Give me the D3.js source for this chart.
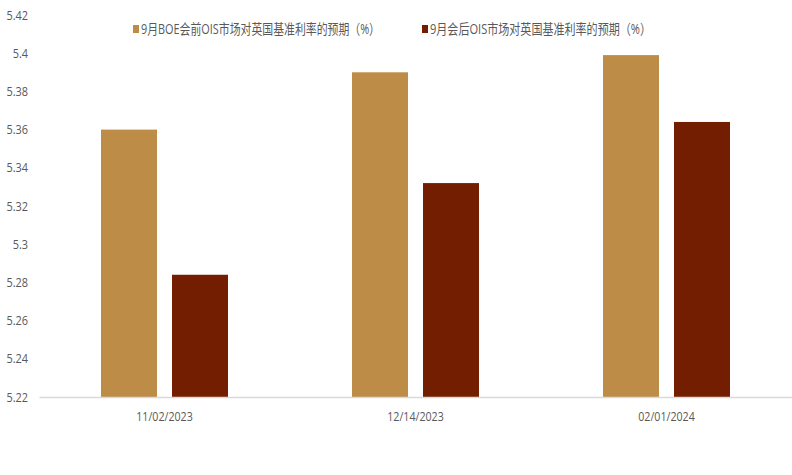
<!DOCTYPE html>
<html>
<head>
<meta charset="utf-8">
<script src="https://cdn.jsdelivr.net/npm/d3@7"></script>
<style>
  body { margin: 0; background: #fff; }
  svg text { font-family: "Open Sans", "Noto Sans CJK SC", sans-serif; fill: #595959; }
</style>
</head>
<body>
<div id="chart"></div>
<script>
// data
var dates = ["11/02/2023", "12/14/2023", "02/01/2024"];
var seriesNames = ["9月BOE会前OIS市场对英国基准利率的预期（%）", "9月会后OIS市场对英国基准利率的预期（%）"];
var beforeMeeting = [5.36, 5.39, 5.399];
var afterMeeting = [5.284, 5.332, 5.364];
var yTicks = [5.22, 5.24, 5.26, 5.28, 5.3, 5.32, 5.34, 5.36, 5.38, 5.4, 5.42];
var colors = ["#BD8C47", "#731E00"];

var width = 792, height = 475;
var margin = {top: 15, right: 0, bottom: 78, left: 39};

var svg = d3.select("#chart").append("svg")
    .attr("width", width)
    .attr("height", height);

var x = d3.scaleBand()
    .domain(dates)
    .range([margin.left, width - margin.right]);

var y = d3.scaleLinear()
    .domain([5.22, 5.42])
    .range([height - margin.bottom, margin.top]);

// squeeze text a bit, the original uses a narrow font
function narrow(sel, k) {
    sel.each(function() {
        var w = this.getComputedTextLength();
        d3.select(this).attr("textLength", w * k).attr("lengthAdjust", "spacingAndGlyphs");
    });
}

var barW = 56, gap = 15;
var allSeries = [beforeMeeting, afterMeeting];

allSeries.forEach(function(vals, s) {
    svg.append("g").selectAll("rect")
        .data(vals)
        .enter().append("rect")
        .attr("x", function(d, i) {
            var c = x(dates[i]) + x.bandwidth() / 2;
            return c - (barW * 2 + gap) / 2 + s * (barW + gap);
        })
        .attr("y", function(d) { return y(d); })
        .attr("width", barW)
        .attr("height", function(d) { return y(5.22) - y(d); })
        .attr("fill", colors[s]);
});

// y labels, no axis line
var yAxis = svg.append("g")
    .attr("transform", "translate(" + margin.left + ",0)")
    .call(d3.axisLeft(y).tickValues(yTicks).tickSize(0).tickPadding(11).tickFormat(d3.format("")));
yAxis.select(".domain").remove();
yAxis.selectAll("text").style("font-size", "13px").call(narrow, 0.84);

// x axis
var xAxis = svg.append("g")
    .attr("transform", "translate(0," + y(5.22) + ")")
    .call(d3.axisBottom(x).tickSize(0).tickPadding(15));
xAxis.select(".domain").attr("stroke", "#d9d9d9").attr("stroke-width", 1.5);
xAxis.selectAll("text").style("font-size", "13px").call(narrow, 0.82);

// legend
var legendX = [133, 422];
var legendW = [239, 221];
var legend = svg.append("g").selectAll("g")
    .data(seriesNames)
    .enter().append("g")
    .attr("transform", function(d, i) { return "translate(" + legendX[i] + ",24)"; });
legend.append("rect")
    .attr("width", 6).attr("height", 8).attr("y", 1)
    .attr("fill", function(d, i) { return colors[i]; });
legend.append("text")
    .attr("x", 8).attr("y", 10)
    .attr("textLength", function(d, i) { return legendW[i]; })
    .attr("lengthAdjust", "spacingAndGlyphs")
    .style("font-size", "14px")
    .text(function(d) { return d; });
</script>
</body>
</html>
